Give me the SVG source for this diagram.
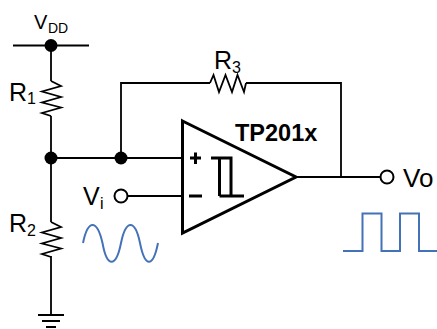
<svg xmlns="http://www.w3.org/2000/svg" width="437" height="329" viewBox="0 0 437 329">
<style>
.w{fill:none;stroke:#000;stroke-width:1.800;stroke-linejoin:miter}
.t{fill:none;stroke:#000;stroke-width:3}
.s{fill:none;stroke:#4472b8;stroke-width:2}
.d{fill:#000}
.o{fill:#fff;stroke:#000;stroke-width:2}
text{font-family:"Liberation Sans",Arial,sans-serif;fill:#000}
.l{font-size:25px}
.n{font-size:16px}
.m{font-size:14px}
</style>
<rect width="437" height="329" fill="#fff"/>
<g id="connectors">
<path class="w" d="M13 45.500H89M51 45.500V81M51 116V222M51 256V315M51 158H182M121 158V83H210M246 83H341V177M296 177H381M128 196H182"/>
</g>
<g id="vdd"><circle class="d" cx="51" cy="45.500" r="6.500"/><text x="34" y="29" style="font-size:20px">V</text><text x="48" y="32.500" class="m">DD</text></g>
<g id="r1"><path class="w" d="M51 81L61 86L42 91.500L61 97L42 102.500L61 107.500L42 113L51 116"/><text x="9" y="101" class="l">R</text><text x="27" y="104" class="n">1</text></g>
<g id="r2"><path class="w" d="M51 222L61 227L42 232.500L61 238L42 243.500L61 248.500L42 254L51 257"/><text x="9" y="232" class="l">R</text><text x="27" y="236" class="n">2</text></g>
<g id="r3"><path class="w" d="M210 83L213.500 75L219 92L225.500 75L232 92L237.500 75L244 92L246 83"/><text x="214" y="69" class="l">R</text><text x="232" y="73" class="n">3</text></g>
<g id="junction1"><circle class="d" cx="51" cy="158" r="6.500"/></g>
<g id="junction2"><circle class="d" cx="121" cy="158" r="6.500"/></g>
<g id="ground"><path class="w" d="M38 315H64M42 321H60M46 327H56"/></g>
<g id="vi"><circle class="o" cx="121" cy="196" r="6.500"/><text x="83" y="205" class="l">V</text><text x="100" y="209" class="n">i</text></g>
<g id="sine"><path class="s" d="M83 243C88 219 97 219 102.500 243C107 268 116 268 121 243C126 219 135 219 140 243C145 268 153 268 158 243"/></g>
<g id="opamp"><path class="t" d="M182.500 121L296 177L182.500 233Z"/><path class="t" d="M190 158H201M195.500 152.500V164M189 196H202"/><path class="t" d="M211 158H231V196M219.500 158V196M219.500 196H244"/><text x="235" y="141" style="font-size:23.500px;font-weight:bold">TP201x</text></g>
<g id="vo"><circle class="o" cx="387" cy="177" r="6.500"/><text x="403" y="187" style="font-size:26px">Vo</text></g>
<g id="square"><path class="s" d="M343 251H362.500V213.500H381.500V251H400V213.500H419V251H437"/></g>
</svg>
